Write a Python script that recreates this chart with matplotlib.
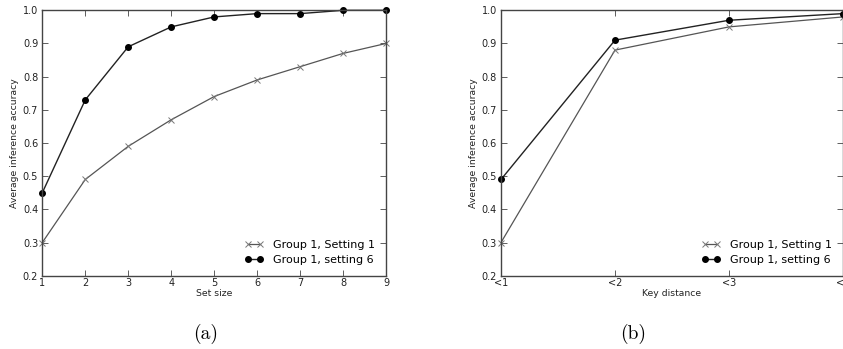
import matplotlib
matplotlib.use("Agg")
import matplotlib.pyplot as plt

set_sizes = [1, 2, 3, 4, 5, 6, 7, 8, 9]
a_setting1 = [0.30, 0.49, 0.59, 0.67, 0.74, 0.79, 0.83, 0.87, 0.90]
a_setting6 = [0.45, 0.73, 0.89, 0.95, 0.98, 0.99, 0.99, 1.00, 1.00]

key_labels = ["<1", "<2", "<3", "<4"]
b_setting1 = [0.30, 0.88, 0.95, 0.98]
b_setting6 = [0.49, 0.91, 0.97, 0.99]

label1 = "Group 1, Setting 1"
label6 = "Group 1, setting 6"

W, H = 843, 349
fig = plt.figure(figsize=(W / 100, H / 100), dpi=100)

def px_axes(x0, x1, y0, y1):
    return fig.add_axes([x0 / W, 1 - y1 / H, (x1 - x0) / W, (y1 - y0) / H])

ax1 = px_axes(42.3, 386, 10.3, 275.7)
ax2 = px_axes(501, 843, 10.3, 275.7)

spine_col = "#444444"

def style(ax):
    for s in ax.spines.values():
        s.set_color(spine_col)
        s.set_linewidth(1.0)
    ax.tick_params(direction="in", top=True, right=True, labelsize=7,
                   length=4, width=0.6, color=spine_col, labelcolor="#222222")
    ax.tick_params(axis="y", pad=3)
    ax.tick_params(axis="x", pad=1.5)
    ax.set_ylim(0.2, 1.0)
    ax.set_yticks([0.2, 0.3, 0.4, 0.5, 0.6, 0.7, 0.8, 0.9, 1.0])
    ax.set_ylabel("Average inference accuracy", fontsize=6.7, color="#222222", labelpad=2.5)

def legend(ax):
    ax.legend(loc="lower right", frameon=False, fontsize=8, numpoints=2,
              handlelength=1.6, handletextpad=0.9, borderaxespad=0.6,
              labelspacing=0.45)

# (a)
ax1.plot(set_sizes, a_setting1, color="#555555", lw=0.9, marker="x", ms=4,
         mew=0.7, mec="#777777", label=label1, clip_on=False)
ax1.plot(set_sizes, a_setting6, color="#222222", lw=1.0, marker="o", ms=4,
         mec="black", mfc="black", label=label6, clip_on=False)
ax1.set_xlim(1, 9)
ax1.set_xticks(set_sizes)
style(ax1)
ax1.set_xlabel("Set size", fontsize=6.7, color="#222222", labelpad=1)
legend(ax1)

# (b)
xb = list(range(len(key_labels)))
ax2.plot(xb, b_setting1, color="#555555", lw=0.9, marker="x", ms=4,
         mew=0.7, mec="#777777", label=label1, clip_on=False)
ax2.plot(xb, b_setting6, color="#222222", lw=1.0, marker="o", ms=4,
         mec="black", mfc="black", label=label6, clip_on=False)
ax2.set_xlim(0, 3)
ax2.set_xticks(xb)
ax2.set_xticklabels(key_labels)
style(ax2)
ax2.set_xlabel("Key distance", fontsize=6.7, color="#222222", labelpad=1)
legend(ax2)

fig.text(206 / W, 1 - 334 / H, "(a)", family="cmr10", fontsize=14, ha="center", va="center")
fig.text(633 / W, 1 - 334 / H, "(b)", family="cmr10", fontsize=14, ha="center", va="center")

fig.savefig("out.png", dpi=100, facecolor="white")
